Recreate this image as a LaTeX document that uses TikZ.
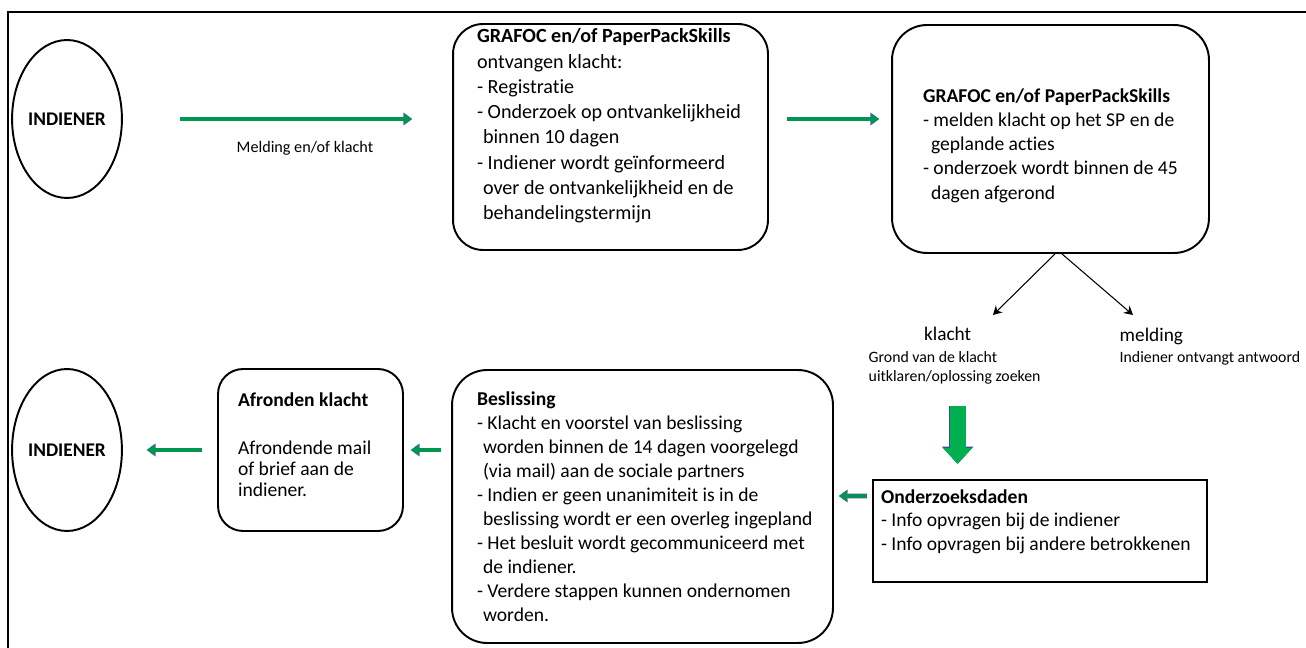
\documentclass[tikz,border=0pt]{standalone}
\usepackage{fontspec}
\setmainfont{Carlito}[Ligatures=NoCommon]
\usetikzlibrary{arrows.meta,positioning,shapes.geometric}

\definecolor{flowgreen}{RGB}{0,150,80}
\definecolor{flowblue}{RGB}{68,100,160}
\definecolor{blockgreen}{RGB}{0,176,80}
\definecolor{blockblue}{RGB}{47,85,151}

\begin{document}
\begin{tikzpicture}[
	x = 0.02cm, y = -0.02cm, % one unit = one pixel of the sketch
	> = {Stealth[length=5pt,width=5.5pt]}, % arrow head style
	thick, % line style
	actor/.style={ellipse, draw=black, line width=1.1pt, inner sep=0pt, minimum width=2.04cm, minimum height=3.16cm, font=\fontsize{11}{13}\selectfont\bfseries},
	stepbox/.style={rectangle, draw=black, line width=1.1pt, rounded corners=0.6cm, inner xsep=0.16cm, inner ysep=0pt, align=flush left},
	textindent/.style={execute at begin node={\leftskip=#1\relax}},
	smalltxt/.style={inner sep=0pt, align=left, font=\fontsize{9}{10.8}\selectfont},
	choice/.style={inner sep=0pt, font=\fontsize{11}{13}\selectfont},
	flow/.style={draw=flowgreen, line width=1.8pt, -{Triangle[length=4pt,width=6pt,line width=0pt]},
		preaction={draw=flowblue, line width=2.8pt, -{Triangle[length=5pt,width=7.5pt,line width=0pt]}}},
	bigflow/.style={draw=blockgreen, line width=9pt, -{Triangle[length=9pt,width=16.5pt,line width=0pt]},
		preaction={draw=blockblue, line width=10pt, -{Triangle[length=9.8pt,width=18pt,line width=0pt]}}},
	]
	\useasboundingbox (0,0) rectangle (1306,648);

	% frame
	\draw[line width=1.1pt] (8,648) -- (8,12) -- (1306,12);

	% Nodes of the upper row
	\node[actor] (ind1) at (67,119) {INDIENER};
	\node[stepbox, text width=5.98cm, minimum height=4.52cm, textindent=0.32cm,
		font=\fontsize{11.45}{14.4}\selectfont] (grafoc1) at (610.5,137) {%
		\textbf{GRAFOC en/of PaperPackSkills}\\
		ontvangen klacht:\\
		- Registratie\\
		- Onderzoek op ontvankelijkheid\\
		\hspace*{0.12cm}binnen 10 dagen\\
		- Indiener wordt geïnformeerd\\
		\hspace*{0.12cm}over de ontvankelijkheid en de\\
		\hspace*{0.12cm}behandelingstermijn\par\kern0.44cm};
	\node[stepbox, rounded corners=0.7cm, text width=6.02cm, minimum height=4.56cm, textindent=0.46cm,
		font=\fontsize{11.15}{13.8}\selectfont] (grafoc2) at (1050.5,139) {%
		\textbf{GRAFOC en/of PaperPackSkills}\\
		- melden klacht op het SP en de\\
		\hspace*{0.16cm}geplande acties\\
		- onderzoek wordt binnen de 45\\
		\hspace*{0.16cm}dagen afgerond\par\kern-0.26cm};

	% klacht or melding
	\coordinate (klachtend) at (993,315);
	\coordinate (meldingend) at (1133,315);
	\node[smalltxt, anchor=west] (klachtinfo) at (868,367.5) {Grond van de klacht\\uitklaren/oplossing zoeken};
	\node[choice, above=0.18cm of klachtinfo, xshift=-0.14cm] (klachtlbl) {klacht};
	\node[smalltxt, anchor=north west] (meldinginfo) at (1119,351) {Indiener ontvangt antwoord};
	\node[choice, above=0.1cm of meldinginfo.north west, anchor=south west] (meldinglbl) {melding};

	% Nodes of the lower row
	\node[actor, minimum height=3.24cm] (ind2) at (67,450) {INDIENER};
	\node[stepbox, rounded corners=0.5cm, text width=3.38cm, minimum height=3.24cm, textindent=0.24cm,
		font=\fontsize{11.15}{12}\selectfont] (afronden) at (310.5,450) {%
		\textbf{Afronden klacht}\\[0.54cm]
		Afrondende mail\\
		of brief aan de\\
		indiener.\par\kern0.2cm};
	\node[stepbox, rounded corners=0.7cm, text width=7.3cm, minimum height=5.46cm, textindent=0.34cm,
		font=\fontsize{11.15}{13.65}\selectfont] (beslis) at (642.5,506.5) {%
		\textbf{Beslissing}\\
		- Klacht en voorstel van beslissing\\
		\hspace*{0.12cm}worden binnen de 14 dagen voorgelegd\\
		\hspace*{0.12cm}(via mail) aan de sociale partners\\
		- Indien er geen unanimiteit is in de\\
		\hspace*{0.12cm}beslissing wordt er een overleg ingepland\\
		- Het besluit wordt gecommuniceerd met\\
		\hspace*{0.12cm}de indiener.\\
		- Verdere stappen kunnen ondernomen\\
		\hspace*{0.12cm}worden.};
	\node[rectangle, draw=black, line width=1.3pt, inner xsep=0.06cm, inner ysep=0pt, align=flush left,
		text width=6.56cm, minimum height=2.04cm, textindent=0.1cm,
		font=\fontsize{11.15}{13.4}\selectfont] (onderz) at (1040,531) {%
		\textbf{Onderzoeksdaden}\\
		- Info opvragen bij de indiener\\
		- Info opvragen bij andere betrokkenen\par\kern0.38cm};

	% Paths connecting nodes
	\draw[flow, shorten <=1.14cm, shorten >=0.8cm] (ind1.east) -- (ind1.east -| grafoc1.west)
		node[smalltxt, pos=0.5, below=0.42cm, xshift=0.35cm, font=\fontsize{9.2}{11}\selectfont] (flowlbl) {Melding en/of klacht};
	\draw[flow, shorten <=0.36cm, shorten >=0.24cm] (grafoc1.east |- ind1.east) -- (grafoc2.west |- ind1.east);
	\draw[->, line width=0.6pt] ([xshift=0.09cm]grafoc2.south) -- (klachtend);
	\draw[->, line width=0.6pt] ([xshift=0.23cm]grafoc2.south) -- (meldingend);
	\draw[bigflow, shorten <=0.42cm, shorten >=0.3cm] ([xshift=0.06cm]klachtinfo.south) -- ([xshift=0.06cm]klachtinfo.south |- onderz.north);
	\draw[flow, shorten <=0.1cm, shorten >=0.1cm] ([yshift=0.7cm]onderz.west) -- ([yshift=0.21cm]beslis.east);
	\draw[flow, shorten <=0.2cm, shorten >=0.14cm] (beslis.west |- afronden.east) -- (afronden.east);
	\draw[flow, shorten <=0.3cm, shorten >=0.48cm] (afronden.west) -- (ind2.east);

\end{tikzpicture}
\end{document}
